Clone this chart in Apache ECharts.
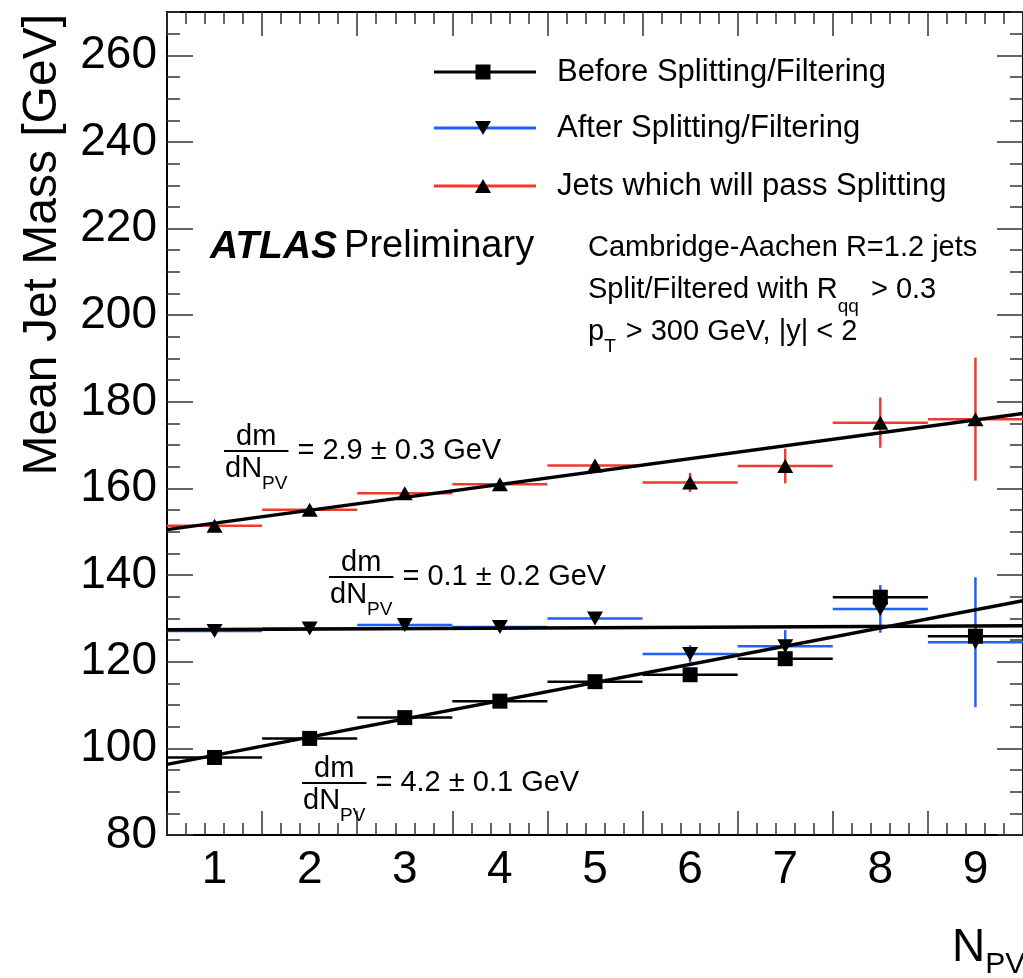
<!DOCTYPE html>
<html><head><meta charset="utf-8">
<script src="https://cdn.jsdelivr.net/npm/echarts@6/dist/echarts.min.js"></script>
<style>html,body{margin:0;padding:0;background:#fff}#c{width:1023px;height:978px}</style>
</head><body><div id="c"></div>
<script>
// ---------------- data ----------------
const nPV = [1, 2, 3, 4, 5, 6, 7, 8, 9];
const binHalfWidth = 0.5;
const beforeMass = [97.9, 102.3, 107.1, 110.9, 115.4, 117.0, 120.7, 134.9, 125.9];
const beforeErr  = [0.4, 0.5, 0.5, 0.6, 0.7, 0.9, 1.2, 1.6, 2.5];
const afterMass  = [127.1, 127.7, 128.5, 128.0, 130.0, 121.8, 123.6, 132.2, 124.5];
const afterErr   = [0.5, 0.6, 0.7, 0.8, 1.0, 2.0, 3.7, 5.5, 15.0];
const passMass   = [151.4, 155.1, 158.9, 161.0, 165.3, 161.4, 165.2, 175.2, 176.0];
const passErr    = [0.6, 0.7, 0.8, 0.9, 1.0, 2.2, 4.0, 5.8, 14.2];
const fitBefore  = [[0.5, 96.3], [9.5, 134.1]];
const fitAfter   = [[0.5, 127.4], [9.5, 128.3]];
const fitPass    = [[0.5, 150.5], [9.5, 177.3]];
const xTickLabels = [1, 2, 3, 4, 5, 6, 7, 8, 9];
const yTickLabels = [80, 100, 120, 140, 160, 180, 200, 220, 240, 260];
const legendLabels = ['Before Splitting/Filtering', 'After Splitting/Filtering', 'Jets which will pass Splitting'];
const slopeTexts = ['= 2.9 \u00b1 0.3 GeV', '= 0.1 \u00b1 0.2 GeV', '= 4.2 \u00b1 0.1 GeV'];

// ---------------- style ----------------
const FONT = "'Liberation Sans', Arial, Helvetica, sans-serif";
const RED = '#ef3b2c', BLUE = '#1f5fff', BLACK = '#000';
const X_MIN = 0.5, X_MAX = 9.5, Y_MIN = 80, Y_MAX = 270;

const xMajor = [], xMinor = [];
for (let k = 0; k <= 45; k++) {
  const v = Math.round((X_MIN + 0.2 * k) * 10) / 10;
  if (k % 5 === 0) xMajor.push(v); else xMinor.push(v);
}
const yMajor = yTickLabels.slice(), yMinor = [];
for (let v = Y_MIN; v <= Y_MAX; v += 5) if (yMajor.indexOf(v) < 0) yMinor.push(v);

const mctx = document.createElement('canvas').getContext('2d');
function tw(t, size, w, st) { mctx.font = (st || 'normal') + ' ' + (w || 'normal') + ' ' + size + 'px ' + FONT; return mctx.measureText(t).width; }
function fnt(size, w, st) { return (st || 'normal') + ' ' + (w || 'normal') + ' ' + size + 'px ' + FONT; }
function seq(x, y, parts) {
  const els = []; let cx = x;
  parts.forEach(p => {
    const t = p[0], s = p[1], dy = p[2] || 0, w = p[3] || 'normal', st = p[4] || 'normal', gap = p[5] || 0;
    cx += gap;
    els.push({ type: 'text', z: 100, style: { text: t, x: cx, y: y + dy, font: fnt(s, w, st), fill: '#000', align: 'left', verticalAlign: 'middle' } });
    cx += tw(t, s, w, st);
  });
  return els;
}
function frac(x0, barY, rhs) {
  const w = tw('dN', 29) + tw('PV', 19) + 2;
  return [
    { type: 'text', z: 100, style: { text: 'dm', x: x0 + w / 2, y: barY - 14, font: fnt(29), fill: '#000', align: 'center', verticalAlign: 'middle' } },
    { type: 'line', z: 100, shape: { x1: x0, y1: barY, x2: x0 + w, y2: barY }, style: { stroke: '#000', lineWidth: 2 } }
  ].concat(seq(x0 + 1, barY + 18, [['dN', 29], ['PV', 19, 15]]))
   .concat(seq(x0 + w + 9, barY, [[rhs, 29]]));
}

function xAx(pos, ticks, len, withLabel, withLine) {
  return {
    type: 'value', position: pos, min: X_MIN, max: X_MAX, gridIndex: 0,
    axisLine: { show: withLine, onZero: false, lineStyle: { color: '#000', width: 2 } },
    axisTick: { show: true, inside: true, length: len, customValues: ticks, lineStyle: { color: '#333', width: 1.5 } },
    axisLabel: { show: withLabel, customValues: xTickLabels, margin: 12, fontSize: 46, fontFamily: FONT, color: '#000' },
    splitLine: { show: false }
  };
}
function yAx(pos, ticks, len, withLabel, withLine) {
  return {
    type: 'value', position: pos, min: Y_MIN, max: Y_MAX, gridIndex: 0,
    axisLine: { show: withLine, onZero: false, lineStyle: { color: '#000', width: 2 } },
    axisTick: { show: true, inside: true, length: len, customValues: ticks, lineStyle: { color: '#333', width: 1.5 } },
    axisLabel: { show: withLabel, customValues: yTickLabels, margin: 10, fontSize: 46, fontFamily: FONT, color: '#000' },
    splitLine: { show: false }
  };
}

function errSeries(vals, errs, color) {
  return {
    type: 'custom', xAxisIndex: 0, yAxisIndex: 0, z: 2,
    data: nPV.map((x, i) => [x, vals[i], errs[i]]),
    renderItem(params, api) {
      const x = api.value(0), y = api.value(1), e = api.value(2);
      const l = api.coord([x - binHalfWidth, y]), r = api.coord([x + binHalfWidth, y]);
      const t = api.coord([x, y + e]), b = api.coord([x, y - e]);
      const st = { stroke: color, lineWidth: 2.5 };
      return { type: 'group', children: [
        { type: 'line', shape: { x1: l[0], y1: l[1], x2: r[0], y2: r[1] }, style: st },
        { type: 'line', shape: { x1: t[0], y1: t[1], x2: b[0], y2: b[1] }, style: st }
      ] };
    }
  };
}
function markSeries(name, vals, symbol, size, rot) {
  return {
    name: name, type: 'scatter', xAxisIndex: 0, yAxisIndex: 0, z: 2,
    data: nPV.map((x, i) => [x, vals[i]]),
    symbol: symbol, symbolSize: size, symbolRotate: rot || 0,
    itemStyle: { color: '#000', opacity: 1 }
  };
}
function fitSeries(pts) {
  return { type: 'line', xAxisIndex: 0, yAxisIndex: 0, z: 3, data: pts, showSymbol: false, symbol: 'none',
    lineStyle: { color: '#000', width: 3.5 } };
}

// legend (drawn)
const legRows = [
  { y: 72, color: BLACK, marker: 'square' },
  { y: 128, color: BLUE, marker: 'down' },
  { y: 186, color: RED, marker: 'up' }
];
const legendEls = [];
legRows.forEach((r, i) => {
  legendEls.push({ type: 'line', z: 100, shape: { x1: 434, y1: r.y, x2: 536, y2: r.y }, style: { stroke: r.color, lineWidth: 3 } });
  const cx = 483;
  if (r.marker === 'square') legendEls.push({ type: 'rect', z: 101, shape: { x: cx - 7.5, y: r.y - 7.5, width: 15, height: 15 }, style: { fill: '#000' } });
  else if (r.marker === 'down') legendEls.push({ type: 'polygon', z: 101, shape: { points: [[cx - 8, r.y - 7], [cx + 8, r.y - 7], [cx, r.y + 7]] }, style: { fill: '#000' } });
  else legendEls.push({ type: 'polygon', z: 101, shape: { points: [[cx - 8, r.y + 7], [cx + 8, r.y + 7], [cx, r.y - 7]] }, style: { fill: '#000' } });
  legendEls.push({ type: 'text', z: 100, style: { text: legendLabels[i], x: 557, y: r.y, font: fnt(31), fill: '#000', align: 'left', verticalAlign: 'middle' } });
});

let graphics = [].concat(
  legendEls,
  // y axis title
  [{ type: 'text', z: 100, x: 43, y: 14, rotation: Math.PI / 2,
     style: { text: 'Mean Jet Mass [GeV]', x: 0, y: 0, font: fnt(48), fill: '#000', align: 'right', verticalAlign: 'middle' } }],
  // x axis title
  seq(952, 948, [['N', 46], ['PV', 30, 17]]),
  // ATLAS Preliminary
  seq(210, 247, [['ATLAS', 39, 0, 'bold', 'italic'], ['Preliminary', 38, 0, 'normal', 'normal', 7]]),
  // info block
  seq(588, 248, [['Cambridge-Aachen R=1.2 jets', 29]]),
  seq(588, 290, [['Split/Filtered with R', 29], ['qq', 19, 17], ['> 0.3', 29, 0, 'normal', 'normal', 12]]),
  seq(588, 332, [['p', 29], ['T', 19, 15], ['> 300 GeV, |y| < 2', 29, 0, 'normal', 'normal', 10]]),
  // slope annotations
  frac(224, 451, slopeTexts[0]),
  frac(329, 577, slopeTexts[1]),
  frac(302, 783, slopeTexts[2])
);

const chart = echarts.init(document.getElementById('c'), null, { renderer: 'canvas' });
chart.setOption({
  animation: false,
  backgroundColor: '#fff',
  grid: { left: 167, top: 12, width: 859.5, height: 823, containLabel: false },
  xAxis: [
    xAx('bottom', xMajor, 24, true, true),
    xAx('bottom', xMinor, 12, false, false),
    xAx('top', xMajor, 24, false, true),
    xAx('top', xMinor, 12, false, false)
  ],
  yAxis: [
    yAx('left', yMajor, 26, true, true),
    yAx('left', yMinor, 13, false, false),
    yAx('right', yMajor, 26, false, true),
    yAx('right', yMinor, 13, false, false)
  ],
  series: [
    errSeries(beforeMass, beforeErr, BLACK),
    markSeries(legendLabels[0], beforeMass, 'rect', 15),
    errSeries(afterMass, afterErr, BLUE),
    markSeries(legendLabels[1], afterMass, 'triangle', [16, 14], 180),
    errSeries(passMass, passErr, RED),
    markSeries(legendLabels[2], passMass, 'triangle', [16, 14], 0),
    fitSeries(fitBefore),
    fitSeries(fitAfter),
    fitSeries(fitPass)
  ],
  graphic: { elements: graphics }
});
</script></body></html>
